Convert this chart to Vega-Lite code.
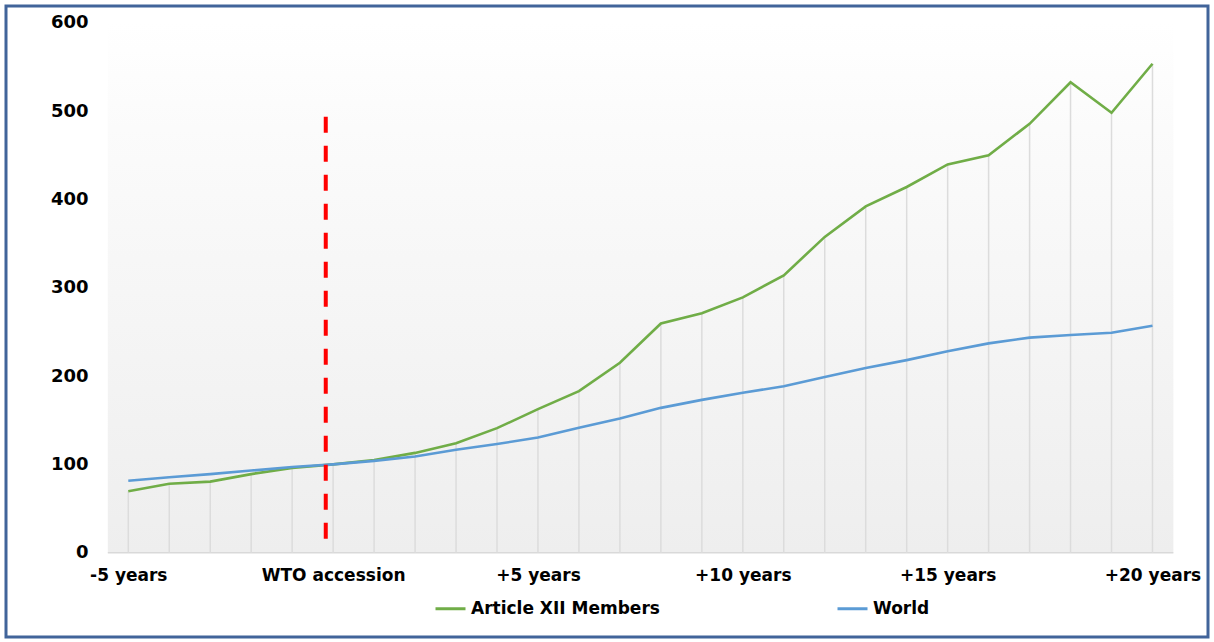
{
  "$schema": "https://vega.github.io/schema/vega-lite/v6.json",
  "width": 1202,
  "height": 631,
  "autosize": {"type": "none"},
  "padding": {"left": 6, "top": 6, "right": 6, "bottom": 5},
  "background": "#ffffff",
  "config": {
    "view": {"stroke": "#41649a", "strokeWidth": 3, "fill": null},
    "font": "DejaVu Sans"
  },
  "datasets": {
    "series": [
      {"year": -5, "series": "Article XII Members", "value": 69.5},
      {"year": -4, "series": "Article XII Members", "value": 78},
      {"year": -3, "series": "Article XII Members", "value": 80.5},
      {"year": -2, "series": "Article XII Members", "value": 89},
      {"year": -1, "series": "Article XII Members", "value": 96},
      {"year": 0, "series": "Article XII Members", "value": 100},
      {"year": 1, "series": "Article XII Members", "value": 105},
      {"year": 2, "series": "Article XII Members", "value": 113},
      {"year": 3, "series": "Article XII Members", "value": 124},
      {"year": 4, "series": "Article XII Members", "value": 141},
      {"year": 5, "series": "Article XII Members", "value": 162.5},
      {"year": 6, "series": "Article XII Members", "value": 183},
      {"year": 7, "series": "Article XII Members", "value": 215},
      {"year": 8, "series": "Article XII Members", "value": 259.5},
      {"year": 9, "series": "Article XII Members", "value": 271},
      {"year": 10, "series": "Article XII Members", "value": 289},
      {"year": 11, "series": "Article XII Members", "value": 314},
      {"year": 12, "series": "Article XII Members", "value": 357.5},
      {"year": 13, "series": "Article XII Members", "value": 392},
      {"year": 14, "series": "Article XII Members", "value": 414},
      {"year": 15, "series": "Article XII Members", "value": 439.5},
      {"year": 16, "series": "Article XII Members", "value": 450},
      {"year": 17, "series": "Article XII Members", "value": 485.5},
      {"year": 18, "series": "Article XII Members", "value": 532.5},
      {"year": 19, "series": "Article XII Members", "value": 498},
      {"year": 20, "series": "Article XII Members", "value": 553.5},
      {"year": -5, "series": "World", "value": 81.5},
      {"year": -4, "series": "World", "value": 85.5},
      {"year": -3, "series": "World", "value": 89},
      {"year": -2, "series": "World", "value": 93},
      {"year": -1, "series": "World", "value": 97},
      {"year": 0, "series": "World", "value": 100},
      {"year": 1, "series": "World", "value": 104},
      {"year": 2, "series": "World", "value": 109},
      {"year": 3, "series": "World", "value": 116.5},
      {"year": 4, "series": "World", "value": 123},
      {"year": 5, "series": "World", "value": 130.5},
      {"year": 6, "series": "World", "value": 141.5},
      {"year": 7, "series": "World", "value": 152},
      {"year": 8, "series": "World", "value": 164},
      {"year": 9, "series": "World", "value": 173},
      {"year": 10, "series": "World", "value": 181},
      {"year": 11, "series": "World", "value": 188.5},
      {"year": 12, "series": "World", "value": 199},
      {"year": 13, "series": "World", "value": 209},
      {"year": 14, "series": "World", "value": 218},
      {"year": 15, "series": "World", "value": 228},
      {"year": 16, "series": "World", "value": 237},
      {"year": 17, "series": "World", "value": 243.5},
      {"year": 18, "series": "World", "value": 246.5},
      {"year": 19, "series": "World", "value": 249},
      {"year": 20, "series": "World", "value": 257}
    ]
  },
  "layer": [
    {
      "data": {"values": [{}]},
      "mark": {
        "type": "rect",
        "fill": {
          "gradient": "linear",
          "x1": 0, "y1": 0, "x2": 0, "y2": 1,
          "stops": [
            {"offset": 0, "color": "#ffffff"},
            {"offset": 0.2, "color": "#fbfbfb"},
            {"offset": 1, "color": "#eeeeee"}
          ]
        }
      },
      "encoding": {
        "x": {"datum": -5.5, "type": "quantitative"},
        "x2": {"datum": 20.51},
        "y": {"datum": 0, "type": "quantitative"},
        "y2": {"datum": 600}
      }
    },
    {
      "data": {"values": [{}]},
      "mark": {"type": "rule", "color": "#d9d9d9", "strokeWidth": 1.5},
      "encoding": {
        "x": {"datum": -5.5, "type": "quantitative"},
        "x2": {"datum": 20.51},
        "y": {"datum": 0, "type": "quantitative"}
      }
    },
    {
      "data": {"name": "series"},
      "transform": [{"filter": "datum.series == 'Article XII Members'"}],
      "mark": {"type": "rule", "color": "#dcdcdc", "strokeWidth": 1.5},
      "encoding": {
        "x": {"field": "year", "type": "quantitative"},
        "y": {"field": "value", "type": "quantitative"},
        "y2": {"datum": 0}
      }
    },
    {
      "data": {"name": "series"},
      "mark": {"type": "line", "strokeWidth": 2.6},
      "encoding": {
        "x": {
          "field": "year",
          "type": "quantitative",
          "scale": {"domain": [-7.985, 21.355], "nice": false, "zero": false},
          "axis": {
            "values": [-5, 0, 5, 10, 15, 20],
            "labelExpr": "datum.value == -5 ? '-5 years' : datum.value == 0 ? 'WTO accession' : '+' + datum.value + ' years'",
            "title": null,
            "domain": false,
            "ticks": false,
            "tickSize": 0,
            "grid": false,
            "offset": -84.3,
            "labelPadding": 15,
            "labelFont": "DejaVu Sans",
            "labelFontWeight": "bold",
            "labelFontSize": 17,
            "labelColor": "#000000",
            "labelFlush": false
          }
        },
        "y": {
          "field": "value",
          "type": "quantitative",
          "scale": {"domain": [-95.4, 618.9], "nice": false, "zero": false},
          "axis": {
            "values": [0, 100, 200, 300, 400, 500, 600],
            "title": null,
            "domain": false,
            "ticks": false,
            "tickSize": 0,
            "grid": false,
            "offset": -90,
            "labelPadding": 8,
            "labelFont": "DejaVu Sans",
            "labelFontWeight": "bold",
            "labelFontSize": 18,
            "labelColor": "#000000"
          }
        },
        "color": {
          "field": "series",
          "type": "nominal",
          "scale": {"domain": ["Article XII Members", "World"], "range": ["#70ad47", "#5b9bd5"]},
          "legend": {
            "title": null,
            "orient": "none",
            "direction": "horizontal",
            "legendX": 428,
            "legendY": 586,
            "padding": 0,
            "columnPadding": 171,
            "symbolType": "stroke",
            "symbolSize": 900,
            "symbolStrokeWidth": 3,
            "labelOffset": 4,
            "labelFont": "DejaVu Sans",
            "labelFontWeight": "bold",
            "labelFontSize": 17,
            "labelColor": "#000000",
            "labelLimit": 400
          }
        }
      }
    },
    {
      "data": {"values": [{}]},
      "mark": {"type": "rule", "color": "#ff0000", "strokeWidth": 4, "strokeDash": [16, 13]},
      "encoding": {
        "x": {"datum": -0.18, "type": "quantitative"},
        "y": {"datum": 493.6, "type": "quantitative"},
        "y2": {"datum": 7.9}
      }
    }
  ]
}
